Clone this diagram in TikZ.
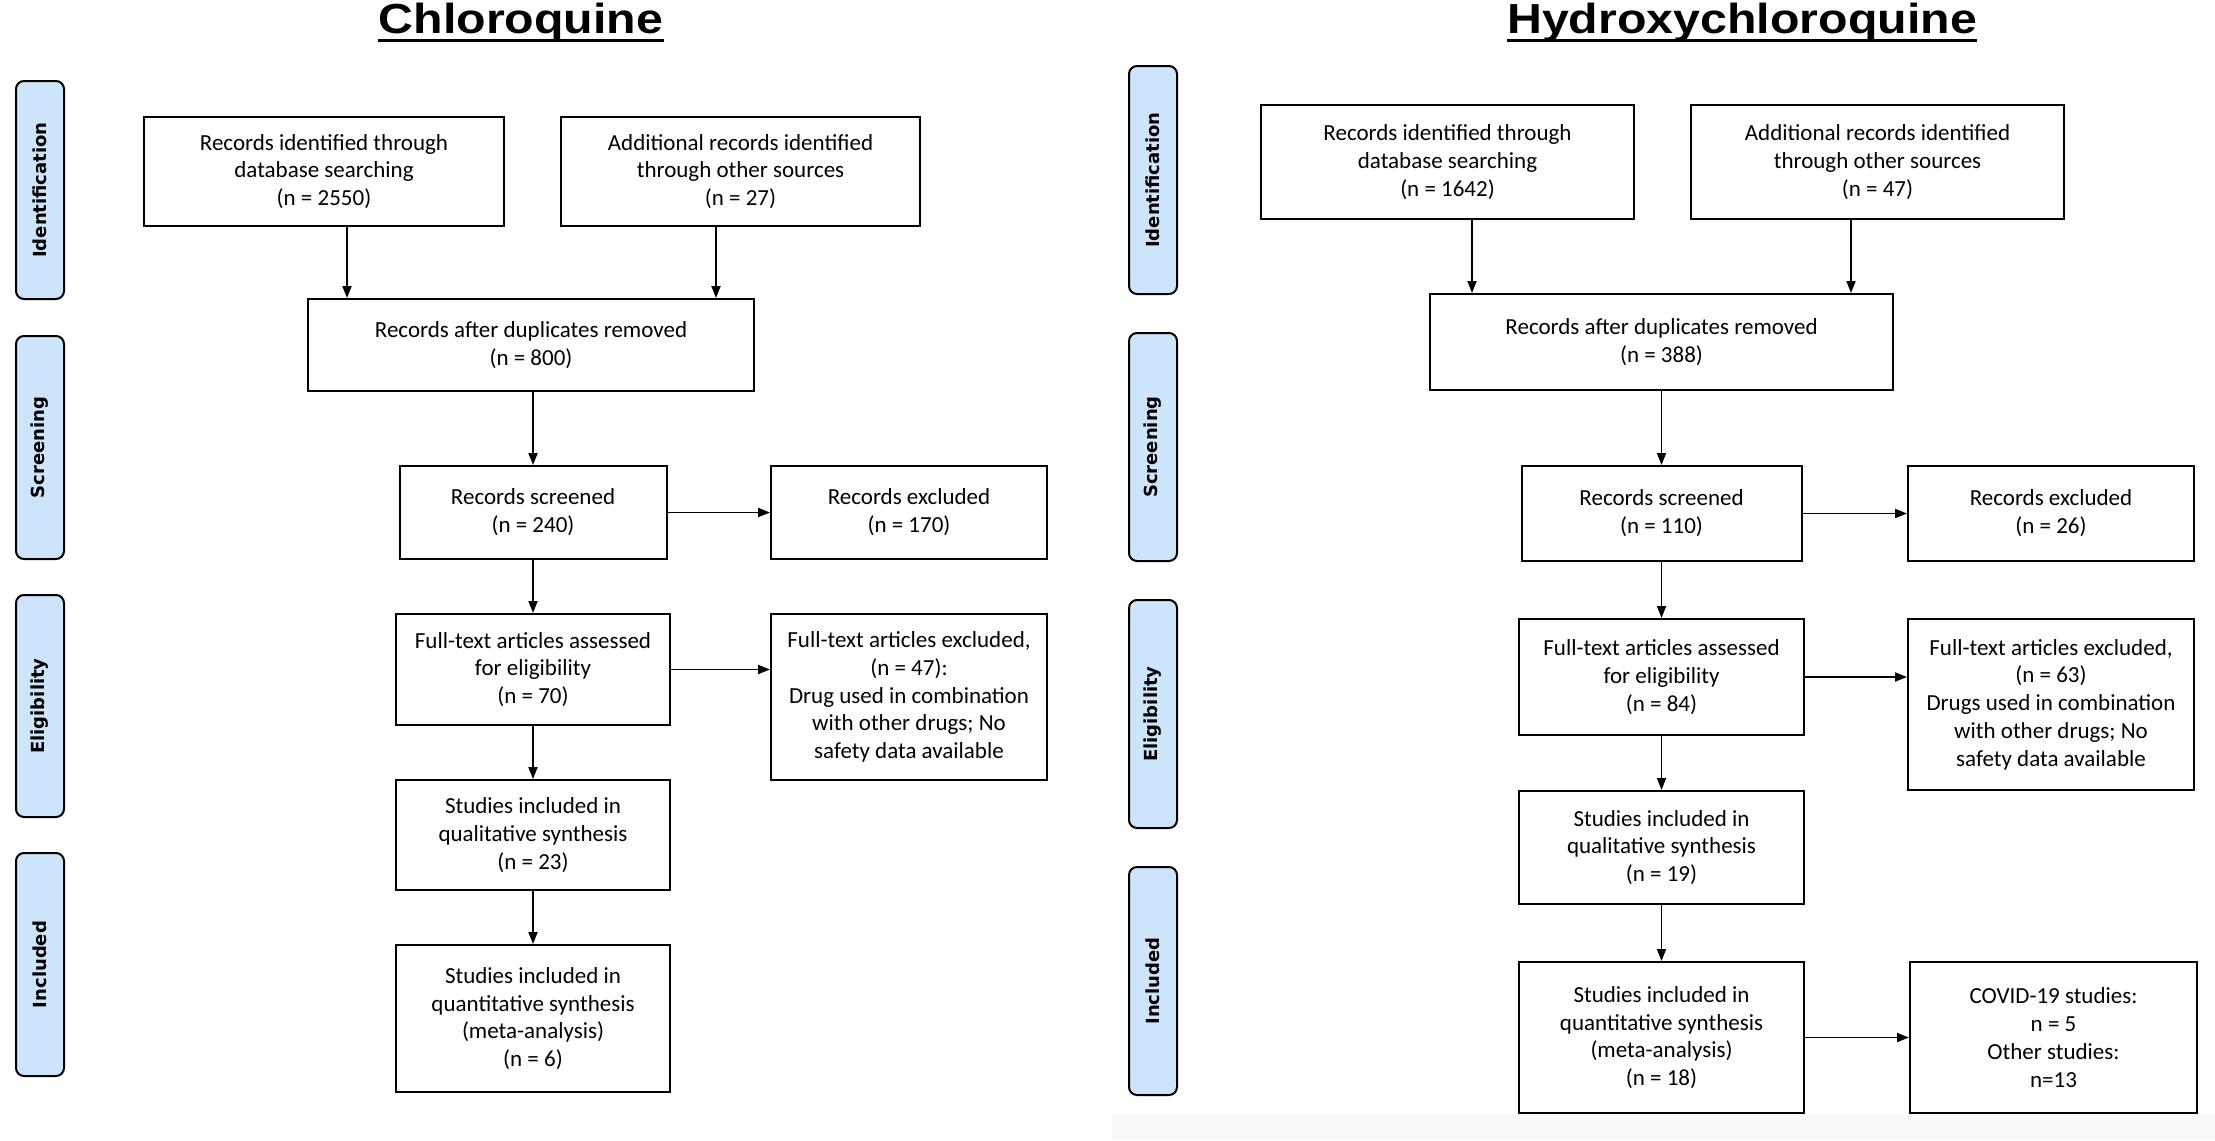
\documentclass[tikz,border=0pt]{standalone}
\usepackage{fontspec}
\setmainfont{Carlito}
\newfontfamily\titlefont[FakeStretch=1.15]{Liberation Sans}
\newfontfamily\sidefont{DejaVu Sans}
\usetikzlibrary{arrows.meta,fit}
\definecolor{sideblue}{RGB}{205,229,250}
\definecolor{bandgray}{RGB}{249,249,249}
\begin{document}
\begin{tikzpicture}[x=0.5pt,y=-0.5pt,
  box/.style={draw, line width=1pt, inner sep=0pt, align=center, font=\fontsize{11.5}{13.9}\selectfont},
  side/.style={draw, line width=1pt, fill=sideblue, rounded corners=4pt, inner sep=0pt},
  sidetxt/.style={rotate=90, inner sep=0pt, font=\sidefont\bfseries\fontsize{9}{11}\selectfont},
  arr/.style={-{Triangle[length=6pt,width=4.5pt]}, line width=0.9pt},
  ttl/.style={font=\titlefont\bfseries\fontsize{21}{25}\selectfont, anchor=base, inner sep=0pt},
  uline/.style={line width=1.5pt}]
\useasboundingbox (0,0) rectangle (2215,1140);
\fill[bandgray] (1112,1115) rectangle (2215,1140);

% ---------------- Chloroquine ----------------
\node[ttl] (T1) at (521,33) {Chloroquine};
\draw[uline] ([yshift=-3.5pt]T1.base west) -- ([yshift=-3.5pt]T1.base east);

\node[side, fit={(16,81) (64,299)}] (L1) {};
\node[sidetxt] (L1t) at (L1.center) {Identification};
\node[side, fit={(16,336) (64,559)}] (L2) {};
\node[sidetxt] (L2t) at (L2.center) {Screening};
\node[side, fit={(16,595) (64,817)}] (L3) {};
\node[sidetxt] (L3t) at (L3.center) {Eligibility};
\node[side, fit={(16,853) (64,1076)}] (L4) {};
\node[sidetxt] (L4t) at (L4.center) {Included};

\node[box, minimum width=180pt, minimum height=54.5pt] (A1) at (324,171.5) {Records identified through\\database searching\\(n = 2550)};
\node[box, minimum width=179.5pt, minimum height=54.5pt] (A2) at (740.5,171.5) {Additional records identified\\through other sources\\(n = 27)};
\node[box, minimum width=223pt, minimum height=46pt] (A3) at (531,345) {Records after duplicates removed\\(n = 800)};
\node[box, minimum width=133.5pt, minimum height=46.5pt] (A4) at (533,512.5) {Records screened\\(n = 240)};
\node[box, minimum width=138pt, minimum height=46.5pt] (A5) at (909,512.5) {Records excluded\\(n = 170)};
\node[box, minimum width=137pt, minimum height=55.5pt] (A6) at (533,669.5) {Full-text articles assessed\\for eligibility\\(n = 70)};
\node[box, minimum width=138pt, minimum height=83pt] (A7) at (909,697) {Full-text articles excluded,\\(n = 47):\\Drug used in combination\\with other drugs; No\\safety data available};
\node[box, minimum width=137pt, minimum height=55pt] (A8) at (533,835) {Studies included in\\qualitative synthesis\\(n = 23)};
\node[box, minimum width=137pt, minimum height=73.5pt] (A9) at (533,1018.5) {Studies included in\\quantitative synthesis\\(meta-analysis)\\(n = 6)};

\coordinate (xa1) at (347,0);
\coordinate (xa2) at (716,0);
\draw[arr] (xa1 |- A1.south) -- (xa1 |- A3.north);
\draw[arr] (xa2 |- A2.south) -- (xa2 |- A3.north);
\draw[arr] (A3.south -| A4.north) -- (A4.north);
\draw[arr] (A4.east) -- (A4.east -| A5.west);
\draw[arr] (A4.south) -- (A6.north);
\draw[arr] (A6.east) -- (A6.east -| A7.west);
\draw[arr] (A6.south) -- (A8.north);
\draw[arr] (A8.south) -- (A9.north);

% ---------------- Hydroxychloroquine ----------------
\node[ttl] (T2) at (1742,33) {Hydroxychloroquine};
\draw[uline] ([yshift=-3.5pt]T2.base west) -- ([yshift=-3.5pt]T2.base east);

\node[side, fit={(1129,66) (1177,294)}] (R1) {};
\node[sidetxt] (R1t) at (R1.center) {Identification};
\node[side, fit={(1129,333) (1177,561)}] (R2) {};
\node[sidetxt] (R2t) at (R2.center) {Screening};
\node[side, fit={(1129,600) (1177,828)}] (R3) {};
\node[sidetxt] (R3t) at (R3.center) {Eligibility};
\node[side, fit={(1129,867) (1177,1095)}] (R4) {};
\node[sidetxt] (R4t) at (R4.center) {Included};

\node[box, minimum width=186.5pt, minimum height=57pt] (B1) at (1447.5,162) {Records identified through\\database searching\\(n = 1642)};
\node[box, minimum width=186.5pt, minimum height=57pt] (B2) at (1877.5,162) {Additional records identified\\through other sources\\(n = 47)};
\node[box, minimum width=231.5pt, minimum height=48pt] (B3) at (1661.5,342) {Records after duplicates removed\\(n = 388)};
\node[box, minimum width=140pt, minimum height=47.5pt] (B4) at (1661.5,513.5) {Records screened\\(n = 110)};
\node[box, minimum width=143pt, minimum height=47.5pt] (B5) at (2051,513.5) {Records excluded\\(n = 26)};
\node[box, minimum width=142.5pt, minimum height=58pt] (B6) at (1661.5,677) {Full-text articles assessed\\for eligibility\\(n = 84)};
\node[box, minimum width=143pt, minimum height=85.5pt] (B7) at (2051,704.5) {Full-text articles excluded,\\(n = 63)\\Drugs used in combination\\with other drugs; No\\safety data available};
\node[box, minimum width=142.5pt, minimum height=56.5pt] (B8) at (1661.5,847.5) {Studies included in\\qualitative synthesis\\(n = 19)};
\node[box, minimum width=142.5pt, minimum height=75.5pt] (B9) at (1661.5,1037.5) {Studies included in\\quantitative synthesis\\(meta-analysis)\\(n = 18)};
\node[box, minimum width=143.5pt, minimum height=75.5pt] (B10) at (2053.5,1037.5) {COVID-19 studies:\\n = 5\\Other studies:\\n=13};

\coordinate (xb1) at (1472,0);
\coordinate (xb2) at (1851,0);
\draw[arr] (xb1 |- B1.south) -- (xb1 |- B3.north);
\draw[arr] (xb2 |- B2.south) -- (xb2 |- B3.north);
\draw[arr] (B3.south -| B4.north) -- (B4.north);
\draw[arr] (B4.east) -- (B4.east -| B5.west);
\draw[arr] (B4.south) -- (B6.north);
\draw[arr] (B6.east) -- (B6.east -| B7.west);
\draw[arr] (B6.south) -- (B8.north);
\draw[arr] (B8.south) -- (B9.north);
\draw[arr] (B9.east) -- (B9.east -| B10.west);
\end{tikzpicture}
\end{document}
